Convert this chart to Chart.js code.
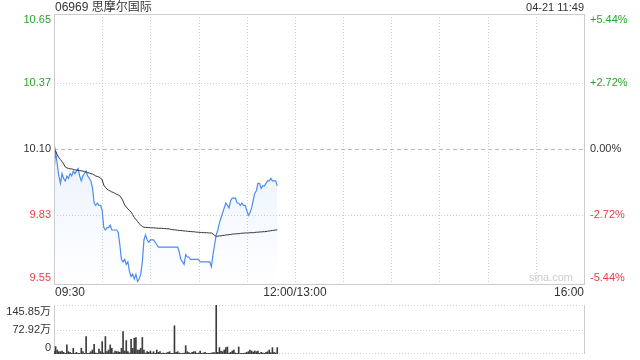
<!DOCTYPE html>
<html><head><meta charset="utf-8">
<script src="https://cdn.jsdelivr.net/npm/chart.js@4"></script>
<style>
html,body{margin:0;padding:0;background:#fff;width:640px;height:360px;overflow:hidden}
#c1{position:absolute;left:0;top:0}
#c2{position:absolute;left:0;top:300px}
</style>
</head><body>
<canvas id="c1" width="640" height="300"></canvas>
<canvas id="c2" width="640" height="60"></canvas>
<script>
const title = '06969 思摩尔国际';
const stamp = '04-21 11:49';
const prevClose = 10.10;
const sessionMinutes = 330;
const priceTicks = [9.55, 9.83, 10.10, 10.37, 10.65];
const pctTicks = ['-5.44%', '-2.72%', '0.00%', '+2.72%', '+5.44%'];
const timeLabels = ['09:30', '12:00/13:00', '16:00'];
const timeLabelMinutes = [0, 150, 330];
const volTicks = [0, 72.92, 145.85];
const volTickLabels = ['0', '72.92万', '145.85万'];

const prices = [
10.01,10.09,10.04,9.99,9.96,10.00,9.98,9.97,9.99,9.98,
10.00,9.99,10.01,10.00,10.01,10.02,9.99,9.97,9.99,10.00,
10.01,9.99,9.98,9.97,9.94,9.88,9.87,9.88,9.87,9.87,
9.85,9.78,9.77,9.78,9.78,9.79,9.77,9.77,9.77,9.77,
9.76,9.71,9.65,9.64,9.65,9.63,9.64,9.60,9.58,9.59,
9.57,9.59,9.56,9.57,9.59,9.64,9.73,9.75,9.73,9.72,
9.73,9.73,9.73,9.72,9.71,9.70,9.70,9.70,9.70,9.70,
9.70,9.70,9.70,9.70,9.70,9.70,9.70,9.70,9.68,9.65,
9.64,9.63,9.67,9.66,9.66,9.65,9.65,9.65,9.65,9.65,
9.65,9.64,9.64,9.64,9.64,9.64,9.64,9.64,9.62,9.67,
9.71,9.75,9.77,9.80,9.82,9.84,9.86,9.88,9.87,9.86,
9.89,9.90,9.90,9.90,9.88,9.88,9.87,9.88,9.87,9.87,
9.85,9.83,9.84,9.86,9.89,9.92,9.93,9.96,9.96,9.94,
9.95,9.95,9.96,9.97,9.97,9.98,9.97,9.97,9.97,9.95
];

const avgPrices = [
10.094,10.092,10.076,10.065,10.057,10.049,10.039,10.027,10.023,10.021,
10.019,10.019,10.017,10.015,10.014,10.013,10.012,10.011,10.010,10.008,
10.006,10.004,10.002,10.000,9.998,9.994,9.990,9.988,9.986,9.982,
9.974,9.953,9.943,9.937,9.932,9.929,9.925,9.923,9.919,9.915,
9.913,9.909,9.900,9.888,9.872,9.864,9.856,9.849,9.843,9.833,
9.821,9.813,9.805,9.796,9.790,9.784,9.781,9.781,9.780,9.780,
9.779,9.779,9.779,9.778,9.778,9.777,9.777,9.777,9.776,9.776,
9.775,9.775,9.774,9.772,9.771,9.771,9.770,9.769,9.768,9.768,
9.767,9.766,9.766,9.765,9.764,9.764,9.763,9.763,9.762,9.761,
9.761,9.760,9.760,9.759,9.759,9.759,9.758,9.758,9.758,9.754,
9.748,9.744,9.745,9.746,9.746,9.748,9.748,9.750,9.750,9.751,
9.752,9.753,9.754,9.754,9.755,9.755,9.756,9.757,9.757,9.758,
9.758,9.758,9.759,9.759,9.759,9.760,9.761,9.761,9.762,9.762,
9.763,9.763,9.764,9.765,9.766,9.767,9.768,9.769,9.770,9.771
];

// volume in 万
const volumes = [
8,22,12,7,7,9,5,2,27,7,
5,2,17,2,5,2,2,17,7,2,
52,2,3,7,12,29,3,2,15,7,
37,3,52,7,12,27,17,3,9,7,
7,5,17,67,9,40,7,3,44,17,
47,49,12,12,17,49,12,3,7,5,
9,3,7,2,12,5,7,2,3,2,
3,5,7,2,2,84,5,7,3,2,
2,3,25,7,4,2,5,7,7,2,
3,9,2,3,5,2,2,2,3,4,
4,145.85,5,19,9,7,12,19,21,3,
5,9,12,3,2,21,2,2,2,3,
5,7,12,9,6,9,7,9,2,5,
3,2,5,7,12,4,19,5,3,19
];

const FONT = '"Liberation Sans", Arial, "Noto Sans CJK SC", sans-serif';
const GREEN = '#2ba32b', RED = '#f03c3c', DARK = '#333333';
const GRID = '#cfcfcf', BORDER = '#cccccc';

function tickColor(v) {
  if (Math.abs(v - prevClose) < 1e-9) return DARK;
  return v > prevClose ? GREEN : RED;
}

const priceDecor = {
  id: 'priceDecor',
  beforeDatasetsDraw(chart) {
    const {ctx, chartArea: a, scales: {x, y}} = chart;
    ctx.save();
    ctx.lineWidth = 1;
    ctx.strokeStyle = GRID;
    ctx.setLineDash([1, 2]);
    for (let m = 30; m < sessionMinutes; m += 30) {
      const px = Math.round(x.getPixelForValue(m)) + 0.5;
      ctx.beginPath(); ctx.moveTo(px, a.top); ctx.lineTo(px, a.bottom); ctx.stroke();
    }
    priceTicks.forEach((v, i) => {
      if (i === 0 || i === priceTicks.length - 1) return;
      const py = Math.round(y.getPixelForValue(v)) + 0.5;
      ctx.setLineDash(Math.abs(v - prevClose) < 1e-9 ? [4, 3] : [1, 2]);
      ctx.strokeStyle = Math.abs(v - prevClose) < 1e-9 ? '#bbbbbb' : GRID;
      ctx.beginPath(); ctx.moveTo(a.left, py); ctx.lineTo(a.right, py); ctx.stroke();
    });
    ctx.restore();
  },
  afterDraw(chart) {
    const {ctx, chartArea: a, scales: {x, y}} = chart;
    ctx.save();
    ctx.setLineDash([]);
    ctx.strokeStyle = BORDER;
    ctx.lineWidth = 1;
    ctx.strokeRect(Math.round(a.left) + 0.5, Math.round(a.top) + 0.5, Math.round(a.width), Math.round(a.height));
    ctx.font = '11px ' + FONT;
    ctx.textBaseline = 'middle';
    priceTicks.forEach((v, i) => {
      let py = y.getPixelForValue(v);
      py = Math.min(Math.max(py, a.top + 6), a.bottom - 6);
      ctx.fillStyle = tickColor(v);
      ctx.textAlign = 'right';
      ctx.fillText(v.toFixed(2), a.left - 3, py);
      ctx.textAlign = 'left';
      ctx.fillText(pctTicks[i], a.right + 6, py);
    });
    ctx.fillStyle = DARK;
    ctx.font = '12px ' + FONT;
    timeLabels.forEach((t, i) => {
      const px = x.getPixelForValue(timeLabelMinutes[i]);
      ctx.textAlign = i === 0 ? 'left' : (i === timeLabels.length - 1 ? 'right' : 'center');
      ctx.fillText(t, i === 0 ? px + 1 : px, a.bottom + 9);
    });
    ctx.textAlign = 'left';
    ctx.fillText(title, a.left + 1, 8);
    ctx.font = '11px ' + FONT;
    ctx.textAlign = 'right';
    ctx.fillText(stamp, a.right, 8);
    ctx.fillStyle = '#cccccc';
    ctx.font = '11px ' + FONT;
    ctx.fillText('sina.com', a.right - 11, a.bottom - 6);
    ctx.restore();
  }
};

new Chart(document.getElementById('c1'), {
  type: 'line',
  data: {
    datasets: [
      {
        label: '均价',
        data: avgPrices.map((v, i) => ({x: i, y: v})),
        borderColor: '#333333',
        borderWidth: 1,
        pointRadius: 0,
        fill: false,
        tension: 0,
        order: 0
      },
      {
        label: '价格',
        data: prices.map((v, i) => ({x: i, y: v})),
        borderColor: '#4a8cf0',
        borderWidth: 1.2,
        pointRadius: 0,
        tension: 0,
        fill: 'start',
        order: 1,
        backgroundColor: (c) => {
          const a = c.chart.chartArea;
          if (!a) return 'rgba(74,140,240,0.1)';
          const g = c.chart.ctx.createLinearGradient(0, a.top, 0, a.bottom);
          g.addColorStop(0, 'rgba(74,140,240,0.22)');
          g.addColorStop(1, 'rgba(74,140,240,0.0)');
          return g;
        }
      }
    ]
  },
  options: {
    responsive: false,
    animation: false,
    devicePixelRatio: 1,
    layout: {padding: {left: 54, right: 56, top: 14, bottom: 16}},
    plugins: {legend: {display: false}, tooltip: {enabled: false}},
    scales: {
      x: {type: 'linear', min: 0, max: sessionMinutes, display: false},
      y: {type: 'linear', min: priceTicks[0], max: priceTicks[priceTicks.length - 1], display: false}
    }
  },
  plugins: [priceDecor]
});

const volDecor = {
  id: 'volDecor',
  beforeDatasetsDraw(chart) {
    const {ctx, chartArea: a, scales: {y}} = chart;
    ctx.save();
    ctx.lineWidth = 1;
    ctx.strokeStyle = GRID;
    ctx.setLineDash([1, 2]);
    volTicks.forEach(v => {
      let py = Math.round(y.getPixelForValue(v)) + 0.5;
      if (py > a.bottom) py = Math.round(a.bottom) - 0.5;
      ctx.beginPath(); ctx.moveTo(a.left, py); ctx.lineTo(a.right, py); ctx.stroke();
    });
    ctx.setLineDash([]);
    ctx.strokeStyle = BORDER;
    [a.left, a.right].forEach(px => {
      const xx = Math.round(px) + 0.5;
      ctx.beginPath(); ctx.moveTo(xx, a.top); ctx.lineTo(xx, a.bottom); ctx.stroke();
    });
    ctx.restore();
  },
  afterDraw(chart) {
    const {ctx, chartArea: a, scales: {y}} = chart;
    ctx.save();
    ctx.font = '11px ' + FONT;
    ctx.textBaseline = 'middle';
    ctx.textAlign = 'right';
    ctx.fillStyle = DARK;
    volTicks.forEach((v, i) => {
      let py = y.getPixelForValue(v);
      py = Math.min(Math.max(py, a.top + 6.5), a.bottom - 6);
      ctx.fillText(volTickLabels[i], a.left - 3, py);
    });
    ctx.restore();
  }
};

new Chart(document.getElementById('c2'), {
  type: 'bar',
  data: {
    datasets: [{
      label: '成交量',
      data: volumes.map((v, i) => ({x: i, y: v})),
      backgroundColor: '#3c3c3c',
      barThickness: 1,
      borderWidth: 0
    }]
  },
  options: {
    responsive: false,
    animation: false,
    devicePixelRatio: 1,
    layout: {padding: {left: 54, right: 56, top: 5, bottom: 6}},
    plugins: {legend: {display: false}, tooltip: {enabled: false}},
    scales: {
      x: {type: 'linear', min: 0, max: sessionMinutes, offset: false, display: false},
      y: {type: 'linear', min: 0, max: volTicks[volTicks.length - 1], display: false}
    }
  },
  plugins: [volDecor]
});
</script>
</body></html>
